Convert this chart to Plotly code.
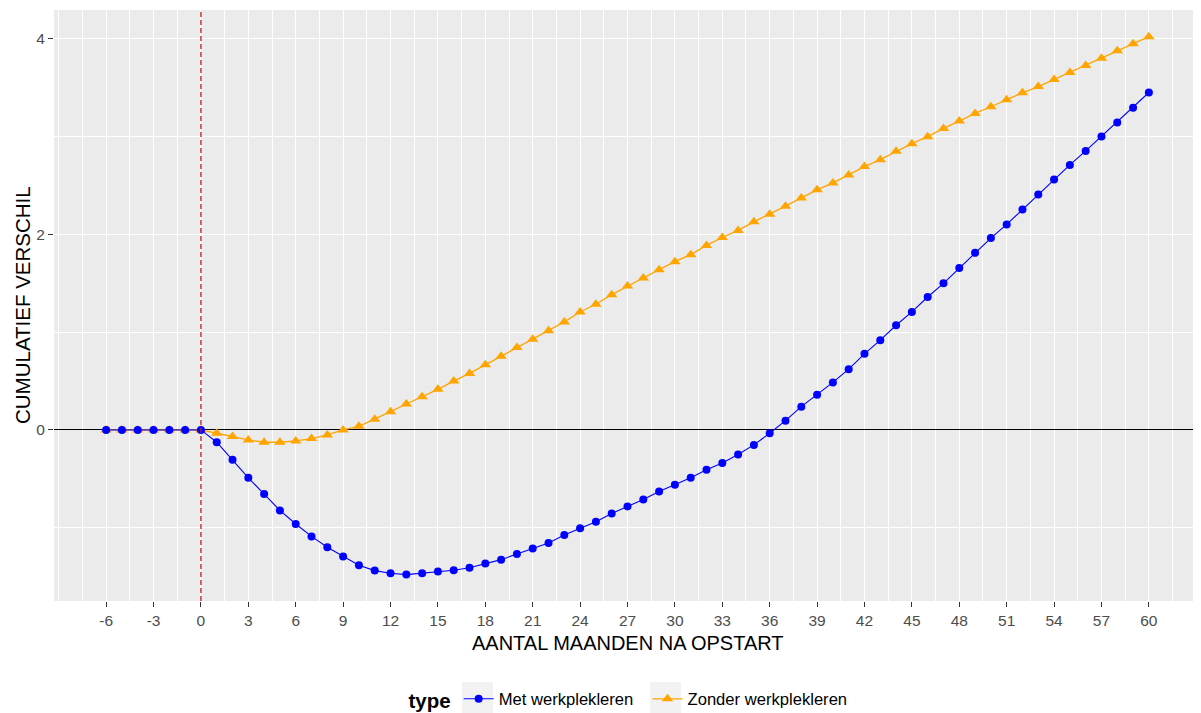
import plotly.graph_objects as go

maanden = list(range(-6, 61))

met_werkplekleren = [
    0, 0, 0, 0, 0, 0,
    0, -0.126, -0.306, -0.49, -0.656, -0.823, -0.962, -1.089, -1.20, -1.296,
    -1.384, -1.439, -1.466, -1.48, -1.466, -1.449, -1.435, -1.41, -1.367, -1.327,
    -1.269, -1.214, -1.157, -1.075, -1.007, -0.939, -0.854, -0.782, -0.711, -0.629,
    -0.561, -0.49, -0.408, -0.337, -0.252, -0.153, -0.034, 0.095, 0.238, 0.36,
    0.486, 0.622, 0.779, 0.918, 1.071, 1.207, 1.36, 1.50, 1.656, 1.812,
    1.963, 2.102, 2.255, 2.408, 2.561, 2.711, 2.854, 3.003, 3.146, 3.296,
    3.452,
]

zonder_werkplekleren = [
    0, 0, 0, 0, 0, 0,
    0, -0.034, -0.068, -0.102, -0.126, -0.126, -0.112, -0.088, -0.051, 0.0,
    0.037, 0.109, 0.187, 0.265, 0.34, 0.415, 0.50, 0.578, 0.666, 0.755,
    0.844, 0.929, 1.014, 1.105, 1.207, 1.286, 1.384, 1.473, 1.554, 1.64,
    1.721, 1.793, 1.888, 1.969, 2.041, 2.129, 2.207, 2.289, 2.374, 2.456,
    2.527, 2.609, 2.694, 2.765, 2.85, 2.929, 3.0, 3.085, 3.16, 3.238,
    3.306, 3.378, 3.449, 3.513, 3.585, 3.656, 3.728, 3.803, 3.878, 3.952,
    4.023,
]

x_ticks = list(range(-6, 61, 3))
y_ticks = [0, 2, 4]

FONT = "Liberation Sans, Arial, sans-serif"

# page body has an 8px margin; figure is sized to fit inside the window
W, H = 1193, 705
L, T, B = 46, 2, 112
PW, PH = W - L, H - T - B


def px_x(win_x):
    return (win_x - 8 - L) / PW


def px_y(win_y):
    return (H - B - (win_y - 8)) / PH


fig = go.Figure()

fig.add_trace(go.Scatter(
    x=maanden, y=zonder_werkplekleren, mode="lines+markers",
    name="Zonder werkplekleren", legendrank=2,
    line=dict(color="#FFA500", width=1.3),
    marker=dict(symbol="triangle-up", size=10, color="#FFA500"),
))
fig.add_trace(go.Scatter(
    x=maanden, y=met_werkplekleren, mode="lines+markers",
    name="Met werkplekleren\u00a0\u00a0", legendrank=1,
    line=dict(color="#0000FF", width=1.1),
    marker=dict(symbol="circle", size=8, color="#0000FF"),
))

# dashed reference line at start
fig.add_vline(x=0, line=dict(color="#B22222", width=1.3, dash="5px,3px"), layer="above")

# grey legend key backgrounds
for x0 in (462, 650):
    fig.add_shape(type="rect", xref="paper", yref="paper",
                  x0=px_x(x0), x1=px_x(x0 + 31), y0=px_y(682), y1=px_y(713),
                  fillcolor="#F2F2F2", line=dict(width=0), layer="below")

fig.update_xaxes(
    range=[-9.3, 63.3], automargin=False,
    tickvals=x_ticks, ticktext=[str(v) for v in x_ticks],
    showgrid=True, gridcolor="white", gridwidth=1.2,
    minor=dict(tick0=0, dtick=1.5, showgrid=True, gridcolor="white", gridwidth=0.9, ticks=""),
    ticks="outside", ticklen=5, tickcolor="#333333", tickwidth=1,
    tickfont=dict(family=FONT, size=15.5, color="#4D4D4D"),
    zeroline=False, showline=False,
)
fig.update_yaxes(
    range=[-1.75, 4.296], automargin=False,
    tickvals=y_ticks, ticktext=[str(v) for v in y_ticks],
    showgrid=True, gridcolor="white", gridwidth=1.2,
    minor=dict(tick0=0, dtick=1, showgrid=True, gridcolor="white", gridwidth=0.9, ticks=""),
    ticks="outside", ticklen=5, tickcolor="#333333", tickwidth=1,
    tickfont=dict(family=FONT, size=15.5, color="#4D4D4D"),
    zeroline=True, zerolinecolor="black", zerolinewidth=1.4,
    showline=False,
)

fig.add_annotation(
    text="AANTAL MAANDEN NA OPSTART", xref="paper", yref="paper",
    x=0.5, y=px_y(643), xanchor="center", yanchor="middle", showarrow=False,
    font=dict(family=FONT, size=20, color="black"),
)
fig.add_annotation(
    text="CUMULATIEF VERSCHIL", xref="paper", yref="paper",
    x=px_x(22), y=px_y(305), xanchor="center", yanchor="middle",
    textangle=-90, showarrow=False,
    font=dict(family=FONT, size=20.5, color="black"),
)

fig.update_layout(
    width=W, height=H,
    margin=dict(l=L, r=0, t=T, b=B, autoexpand=False),
    paper_bgcolor="white", plot_bgcolor="#EBEBEB",
    font=dict(family=FONT),
    showlegend=True,
    legend=dict(
        orientation="h", x=px_x(629.5), xanchor="center", y=px_y(700), yanchor="middle",
        title=dict(text="<b>type</b>", font=dict(family=FONT, size=20.5, color="black"), side="left"),
        font=dict(family=FONT, size=16.6, color="black"),
        bgcolor="rgba(0,0,0,0)", itemwidth=30,
    ),
)

fig.write_html("out.html")
